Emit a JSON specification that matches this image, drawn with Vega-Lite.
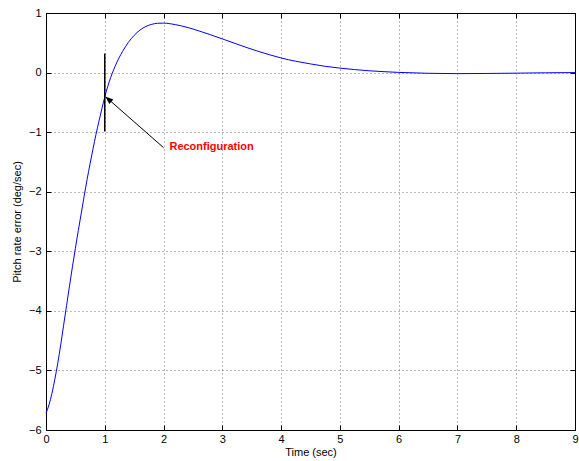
{
  "$schema": "https://vega.github.io/schema/vega-lite/v6.json",
  "width": 529,
  "height": 417,
  "autosize": {"type": "none"},
  "padding": {"left": 46, "top": 13, "right": 4, "bottom": 31},
  "background": "white",
  "config": {
    "view": {"stroke": "#000", "strokeWidth": 1},
    "font": "Liberation Sans",
    "axis": {
      "domainColor": "#000",
      "tickColor": "#000",
      "labelColor": "#000",
      "titleColor": "#000",
      "labelFont": "Liberation Sans",
      "titleFont": "Liberation Sans",
      "labelFontSize": 11,
      "titleFontSize": 11,
      "titleFontWeight": "normal",
      "labelFlush": false,
      "labelOverlap": false,
      "tickSize": -5,
      "gridColor": "#000",
      "gridDash": [1, 3],
      "gridOpacity": 0.55,
      "gridWidth": 1
    }
  },
  "datasets": {
    "curve": [
      {"t": 0, "e": -5.72}, {"t": 0.05, "e": -5.58}, {"t": 0.1, "e": -5.39}, {"t": 0.15, "e": -5.15},
      {"t": 0.2, "e": -4.88}, {"t": 0.25, "e": -4.57}, {"t": 0.3, "e": -4.24}, {"t": 0.35, "e": -3.91},
      {"t": 0.4, "e": -3.58}, {"t": 0.45, "e": -3.26}, {"t": 0.5, "e": -2.95}, {"t": 0.55, "e": -2.65},
      {"t": 0.6, "e": -2.36}, {"t": 0.65, "e": -2.07}, {"t": 0.7, "e": -1.79}, {"t": 0.75, "e": -1.53},
      {"t": 0.8, "e": -1.28}, {"t": 0.85, "e": -1.04}, {"t": 0.9, "e": -0.82}, {"t": 0.95, "e": -0.61},
      {"t": 1.0, "e": -0.41}, {"t": 1.05, "e": -0.235}, {"t": 1.1, "e": -0.085}, {"t": 1.15, "e": 0.045},
      {"t": 1.2, "e": 0.16}, {"t": 1.3, "e": 0.35}, {"t": 1.4, "e": 0.505}, {"t": 1.5, "e": 0.625},
      {"t": 1.6, "e": 0.715}, {"t": 1.7, "e": 0.775}, {"t": 1.8, "e": 0.81}, {"t": 1.9, "e": 0.828},
      {"t": 2.0, "e": 0.83}, {"t": 2.1, "e": 0.822}, {"t": 2.2, "e": 0.805}, {"t": 2.4, "e": 0.76},
      {"t": 2.6, "e": 0.7}, {"t": 2.8, "e": 0.635}, {"t": 3.0, "e": 0.565}, {"t": 3.2, "e": 0.495},
      {"t": 3.4, "e": 0.425}, {"t": 3.6, "e": 0.36}, {"t": 3.8, "e": 0.3}, {"t": 4.0, "e": 0.245},
      {"t": 4.25, "e": 0.19}, {"t": 4.5, "e": 0.145}, {"t": 4.75, "e": 0.105}, {"t": 5.0, "e": 0.075},
      {"t": 5.25, "e": 0.05}, {"t": 5.5, "e": 0.03}, {"t": 5.75, "e": 0.015}, {"t": 6.0, "e": 0.003},
      {"t": 6.5, "e": -0.012}, {"t": 7.0, "e": -0.018}, {"t": 7.5, "e": -0.015}, {"t": 8.0, "e": -0.01},
      {"t": 8.5, "e": -0.004}, {"t": 9.0, "e": 0}
    ],
    "marker": [{"t": 1, "top": 0.32, "bottom": -0.99}],
    "arrow": [{"t0": 2.0, "e0": -1.26, "t1": 1.03, "e1": -0.42, "tip_t": 1.01, "tip_e": -0.4}],
    "label": [{"t": 2.1, "e": -1.25, "text": "Reconfiguration"}]
  },
  "layer": [
    {
      "data": {"name": "curve"},
      "mark": {"type": "line", "color": "#0000ff", "strokeWidth": 1, "interpolate": "monotone"},
      "encoding": {
        "x": {"field": "t", "type": "quantitative", "scale": {"domain": [0, 9], "nice": false},
          "axis": {"title": "Time (sec)", "values": [0,1,2,3,4,5,6,7,8,9], "grid": true, "labelPadding": 8, "titlePadding": 2, "format": "d"}},
        "y": {"field": "e", "type": "quantitative", "scale": {"domain": [-6, 1], "nice": false, "zero": false},
          "axis": {"title": "Pitch rate error (deg/sec)", "values": [-6,-5,-4,-3,-2,-1,0,1], "grid": true, "labelPadding": 10, "titlePadding": 6, "format": "d"}}
      }
    },
    {
      "data": {"name": "marker"},
      "mark": {"type": "rule", "color": "#000", "strokeWidth": 1.5},
      "encoding": {
        "x": {"field": "t", "type": "quantitative", "axis": {"orient": "top", "labels": false, "title": null, "grid": false, "values": [0,1,2,3,4,5,6,7,8,9]}},
        "y": {"field": "top", "type": "quantitative", "axis": {"orient": "right", "labels": false, "title": null, "grid": false, "values": [-6,-5,-4,-3,-2,-1,0,1]}},
        "y2": {"field": "bottom"}
      }
    },
    {
      "data": {"name": "arrow"},
      "mark": {"type": "rule", "color": "#000", "strokeWidth": 1},
      "encoding": {
        "x": {"field": "t0", "type": "quantitative", "axis": null},
        "y": {"field": "e0", "type": "quantitative", "axis": null},
        "x2": {"field": "t1"},
        "y2": {"field": "e1"}
      }
    },
    {
      "data": {"name": "arrow"},
      "mark": {"type": "point", "shape": "M0,0 L-0.38,1 L0.38,1 Z", "filled": true, "color": "#000", "opacity": 1, "size": 256, "angle": 312},
      "encoding": {
        "x": {"field": "tip_t", "type": "quantitative", "axis": null},
        "y": {"field": "tip_e", "type": "quantitative", "axis": null}
      }
    },
    {
      "data": {"name": "label"},
      "mark": {"type": "text", "color": "#ff0000", "fontWeight": "bold", "fontSize": 11, "align": "left", "baseline": "middle", "font": "Liberation Sans"},
      "encoding": {
        "x": {"field": "t", "type": "quantitative", "axis": null},
        "y": {"field": "e", "type": "quantitative", "axis": null},
        "text": {"field": "text"}
      }
    }
  ],
  "resolve": {"axis": {"x": "independent", "y": "independent"}}
}
